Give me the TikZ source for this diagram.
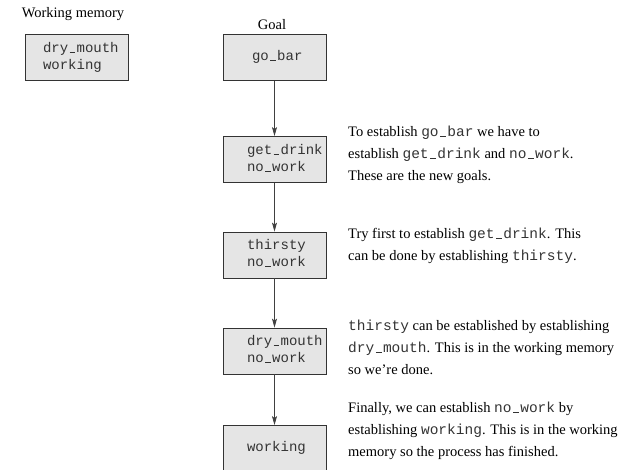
\documentclass[tikz,border=0pt]{standalone}
\usepackage{fontspec}
\setmainfont{Liberation Serif}
\setmonofont{Liberation Mono}
\usetikzlibrary{arrows.meta,positioning}

\definecolor{boxgray}{gray}{0.9}
\definecolor{linegray}{gray}{0.25}
\definecolor{codegray}{gray}{0.2}
% short low bar, as the old \_ in a typewriter face
\newcommand{\us}{\kern.1em\rule[-0.04em]{0.4em}{0.07em}\kern.1em}
\newcommand{\ident}[1]{{\color{codegray}\texttt{#1}}}
\newcommand{\goallines}[2]{\makebox[103pt][l]{\hspace{#1}\begin{tabular}{@{}l@{}}#2\end{tabular}}}

\begin{document}
\begin{tikzpicture}[x=1pt,y=-1pt,>={Stealth[length=9pt,width=5pt,inset=2pt]},
    every node/.style={font=\fontsize{14.5}{22}\selectfont},
    goalbox/.style={draw=black!80,fill=boxgray,line width=0.8pt,minimum width=103pt,
      minimum height=46pt,inner sep=0pt,text=codegray,font=\fontsize{14}{17}\selectfont\ttfamily},
    flow/.style={->,draw=linegray,line width=0.8pt},
    remark/.style={anchor=west,align=left,inner sep=0pt}]
  \useasboundingbox (0,0) rectangle (635,470);
  % headings
  \node (wmtitle) at (73,14) {Working memory};
  \node (goaltitle) at (272,25) {Goal};
  % working memory
  \node[goalbox] (wm) at (76.5,57.5) {\goallines{18pt}{dry\us mouth\\working}};
  % goal stack, top to bottom
  \node[goalbox] (g0) at (274.5,57.5) {\goallines{29pt}{go\us bar}};
  \node[goalbox] (g1) at (274.5,159.5) {\goallines{24pt}{get\us drink\\no\us work}};
  \node[goalbox] (g2) at (274.5,255) {\goallines{24pt}{thirsty\\no\us work}};
  \node[goalbox] (g3) at (274.5,351) {\goallines{24pt}{dry\us mouth\\no\us work}};
  \node[goalbox] (g4) at (274.5,448.5) {\goallines{24pt}{working}};
  \draw[flow] (g0) -- (g1);
  \draw[flow] (g1) -- (g2);
  \draw[flow] (g2) -- (g3);
  \draw[flow] (g3) -- (g4);
  % explanations
  \node[remark] (r1) at (348,155) {To establish \ident{go\us bar} we have to\\
    establish \ident{get\us drink} and \ident{no\us work}.\\These are the new goals.};
  \node[remark] (r2) at (348,246) {Try first to establish \ident{get\us drink}. This\\
    can be done by establishing \ident{thirsty}.};
  \node[remark] (r3) at (348,347) {\ident{thirsty} can be established by establishing\\
    \ident{dry\us mouth}. This is in the working memory\\so we're done.};
  \node[remark] (r4) at (348,431) {Finally, we can establish \ident{no\us work} by\\
    establishing \ident{working}. This is in the working\\memory so the process has finished.};
\end{tikzpicture}
\end{document}
